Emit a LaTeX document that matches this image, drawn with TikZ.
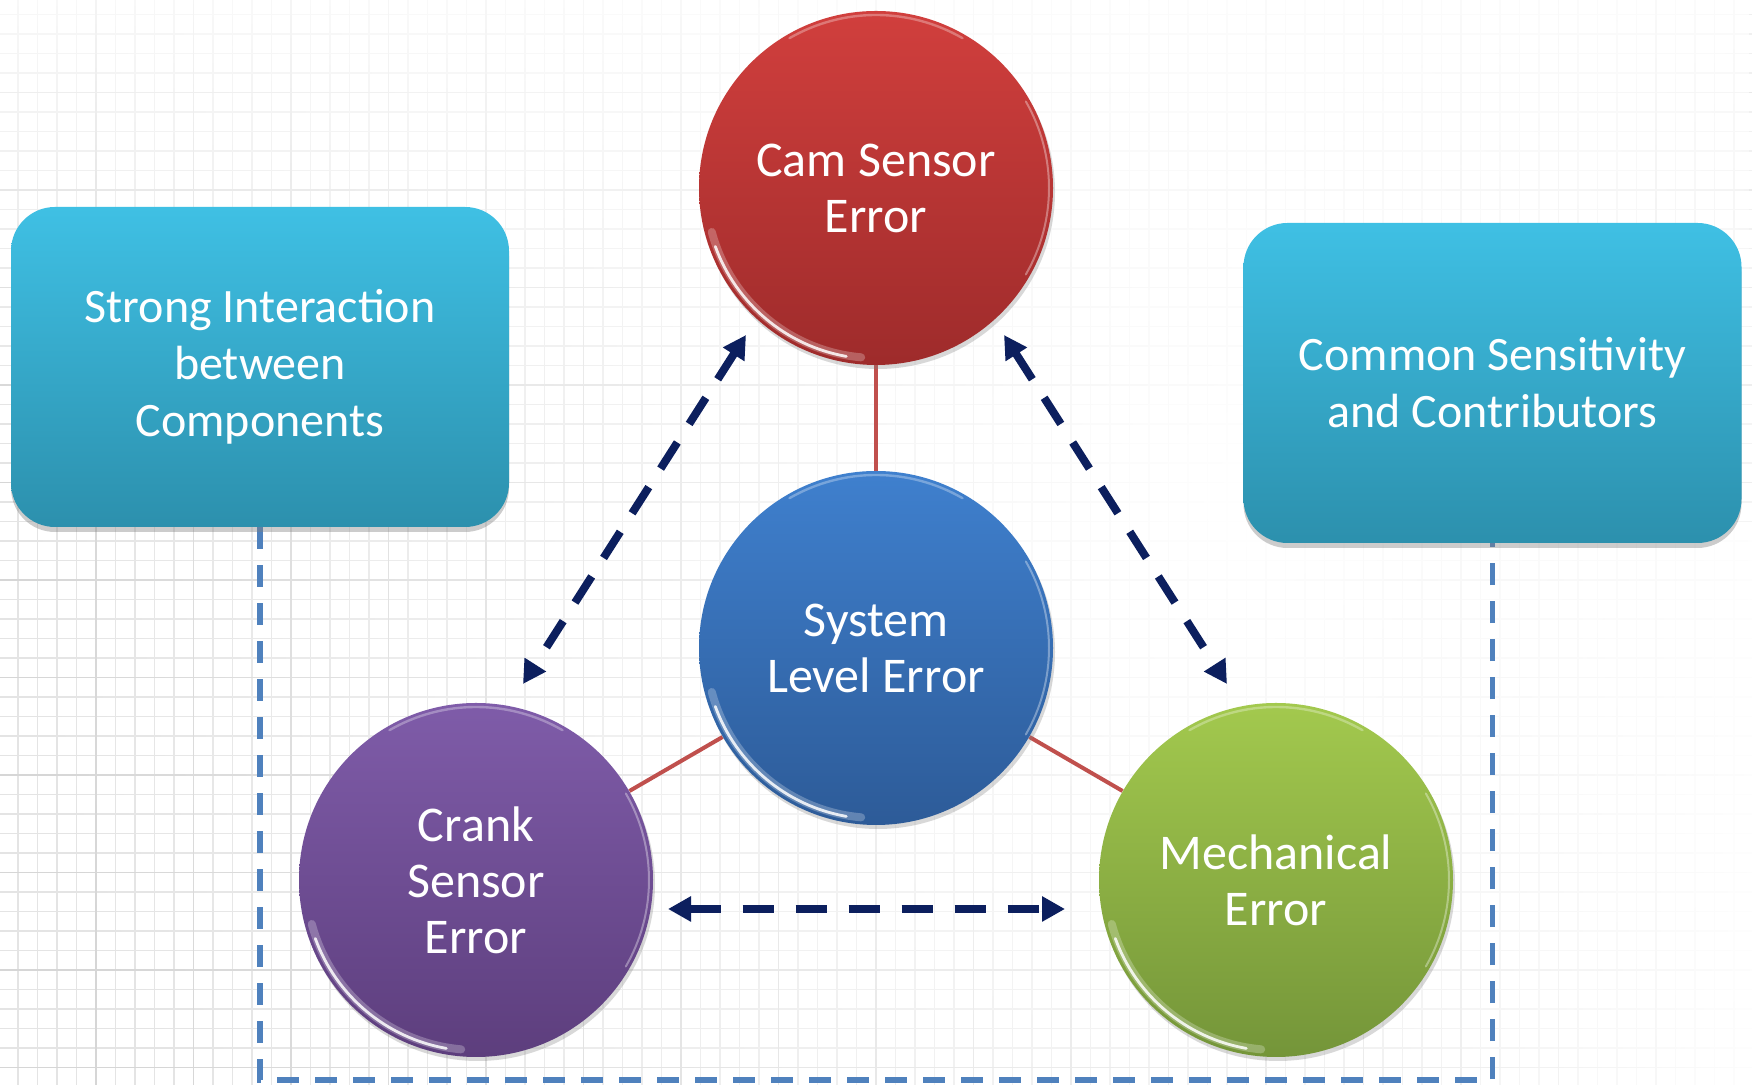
\documentclass[tikz,border=0pt]{standalone}
\usepackage{fontspec}
\setmainfont{Carlito}
\usetikzlibrary{arrows.meta,shadows,fadings,calc,backgrounds}
\definecolor{camT}{HTML}{D13F3D}\definecolor{camB}{HTML}{9E2B2B}
\definecolor{sysT}{HTML}{3F80CE}\definecolor{sysB}{HTML}{2D5B98}
\definecolor{crkT}{HTML}{7F5CA9}\definecolor{crkB}{HTML}{5D3E7D}
\definecolor{mchT}{HTML}{A3C94E}\definecolor{mchB}{HTML}{749539}
\definecolor{boxT}{HTML}{3FC0E4}\definecolor{boxB}{HTML}{2C90AD}
\definecolor{navy}{HTML}{0C1F5E}
\definecolor{frameblue}{HTML}{4F81BD}
\definecolor{linkred}{HTML}{C0504D}
\definecolor{gridmin}{HTML}{E4E4E4}
\definecolor{gridmaj}{HTML}{D6D6D6}
\tikzfading[name=fadeS, top color=transparent!25, bottom color=transparent!100]
\tikzfading[name=fadeW, left color=transparent!100, right color=transparent!8]
\tikzfading[name=blob, inner color=transparent!0, outer color=transparent!100]
\newcommand\glossrim[1]{%
  \draw[white, opacity=.25, line width=4pt, line cap=round] ($(#1.center)+(195:170)$) arc[start angle=195, end angle=265, radius=170];
  \draw[white, opacity=.85, line width=1.4pt, line cap=round] ($(#1.center)+(200:171)$) arc[start angle=200, end angle=260, radius=171];
  \draw[white, opacity=.35, line width=1pt, line cap=round] ($(#1.center)+(-30:173)$) arc[start angle=-30, end angle=30, radius=173];
  \draw[white, opacity=.3, line width=1.2pt, line cap=round] ($(#1.center)+(60:173)$) arc[start angle=60, end angle=120, radius=173];
}
\tikzset{
  ball/.style={circle, minimum size=177pt, inner sep=0pt, text=white, align=center,
    font=\fontsize{25}{28}\selectfont,
    drop shadow={shadow xshift=1pt, shadow yshift=-2pt, opacity=.3}},
  card/.style={rounded corners=22pt, minimum width=249pt, minimum height=160pt, inner sep=0pt,
    text=white, align=center, font=\fontsize{24}{28.5}\selectfont,
    top color=boxT, bottom color=boxB,
    drop shadow={shadow xshift=0pt, shadow yshift=-2.5pt, opacity=.4}},
  gridminor/.style={gridmin, line width=0.6pt},
  gridmajor/.style={gridmaj, line width=0.8pt},
  link/.style={linkred, line width=2pt},
  frame/.style={frameblue, line width=2.8pt, dash pattern=on 11pt off 8pt},
  dbl/.style={navy, line width=4pt, dash pattern=on 15.5pt off 11pt,
    {Triangle[length=11.5pt,width=12pt]}-{Triangle[length=11.5pt,width=12pt]}}
}
\begin{document}
\begin{tikzpicture}[x=0.5pt,y=0.5pt]
\useasboundingbox (0,0) rectangle (1752,1085);
\begin{scope}[on background layer]
  \fill[white] (0,0) rectangle (1752,1085);
  \foreach \i in {0,...,89} \draw[gridminor] ({18+19.5*\i},0) -- ({18+19.5*\i},1085);
  \foreach \k in {0,...,55} \draw[gridminor] (0,{1070.5-19.5*\k}) -- (1752,{1070.5-19.5*\k});
  \foreach \i in {0,...,17} \draw[gridmajor] ({18+19.5*(5*\i+4)},0) -- ({18+19.5*(5*\i+4)},1085);
  \foreach \k in {0,...,10} \draw[gridmajor] (0,{1070.5-19.5*(5*\k+4)}) -- (1752,{1070.5-19.5*(5*\k+4)});
  \fill[white, path fading=blob] (1250,585) circle (1250);
  \fill[white, path fading=fadeS] (0,650) rectangle (1752,1085);
  \fill[white, path fading=fadeW] (1380,0) rectangle (1752,560);
\end{scope}

\node[ball, top color=camT, bottom color=camB] (cam) at (876,897) {Cam Sensor\\Error};
\node[ball, top color=sysT, bottom color=sysB] (sys) at (876,437) {System\\Level Error};
\node[ball, top color=crkT, bottom color=crkB] (crank) at (476,205) {Crank\\Sensor\\Error};
\node[ball, top color=mchT, bottom color=mchB] (mech) at (1276,205) {Mechanical\\Error};
\glossrim{cam}\glossrim{sys}\glossrim{crank}\glossrim{mech}

\node[card] (lbox) at (260,718) {Strong Interaction\\between\\Components};
\node[card] (rbox) at (1492.5,702) {Common Sensitivity\\and Contributors};

\begin{scope}[on background layer]
  \draw[link] (cam) -- (sys);
  \draw[link] (sys) -- (crank);
  \draw[link] (sys) -- (mech);
  \coordinate (fcorner) at (lbox.south |- 0,5);
  \draw[frame] (lbox.south) -- (fcorner) -| (rbox.south);
\end{scope}

\coordinate (a1s) at ($(cam.center)+(-130,-147)$);
\coordinate (a1e) at ($(crank.center)+(47,196)$);
\coordinate (a2s) at ($(cam.center)+(128,-147)$);
\coordinate (a2e) at ($(mech.center)+(-49,196)$);
\coordinate (a3s) at ($(crank.center)+(192,-29)$);
\coordinate (a3e) at ($(mech.center)+(-211,-29)$);
\draw[dbl] (a1s) -- (a1e);
\draw[dbl] (a2s) -- (a2e);
\draw[dbl] (a3s) -- (a3e);
\end{tikzpicture}
\end{document}
